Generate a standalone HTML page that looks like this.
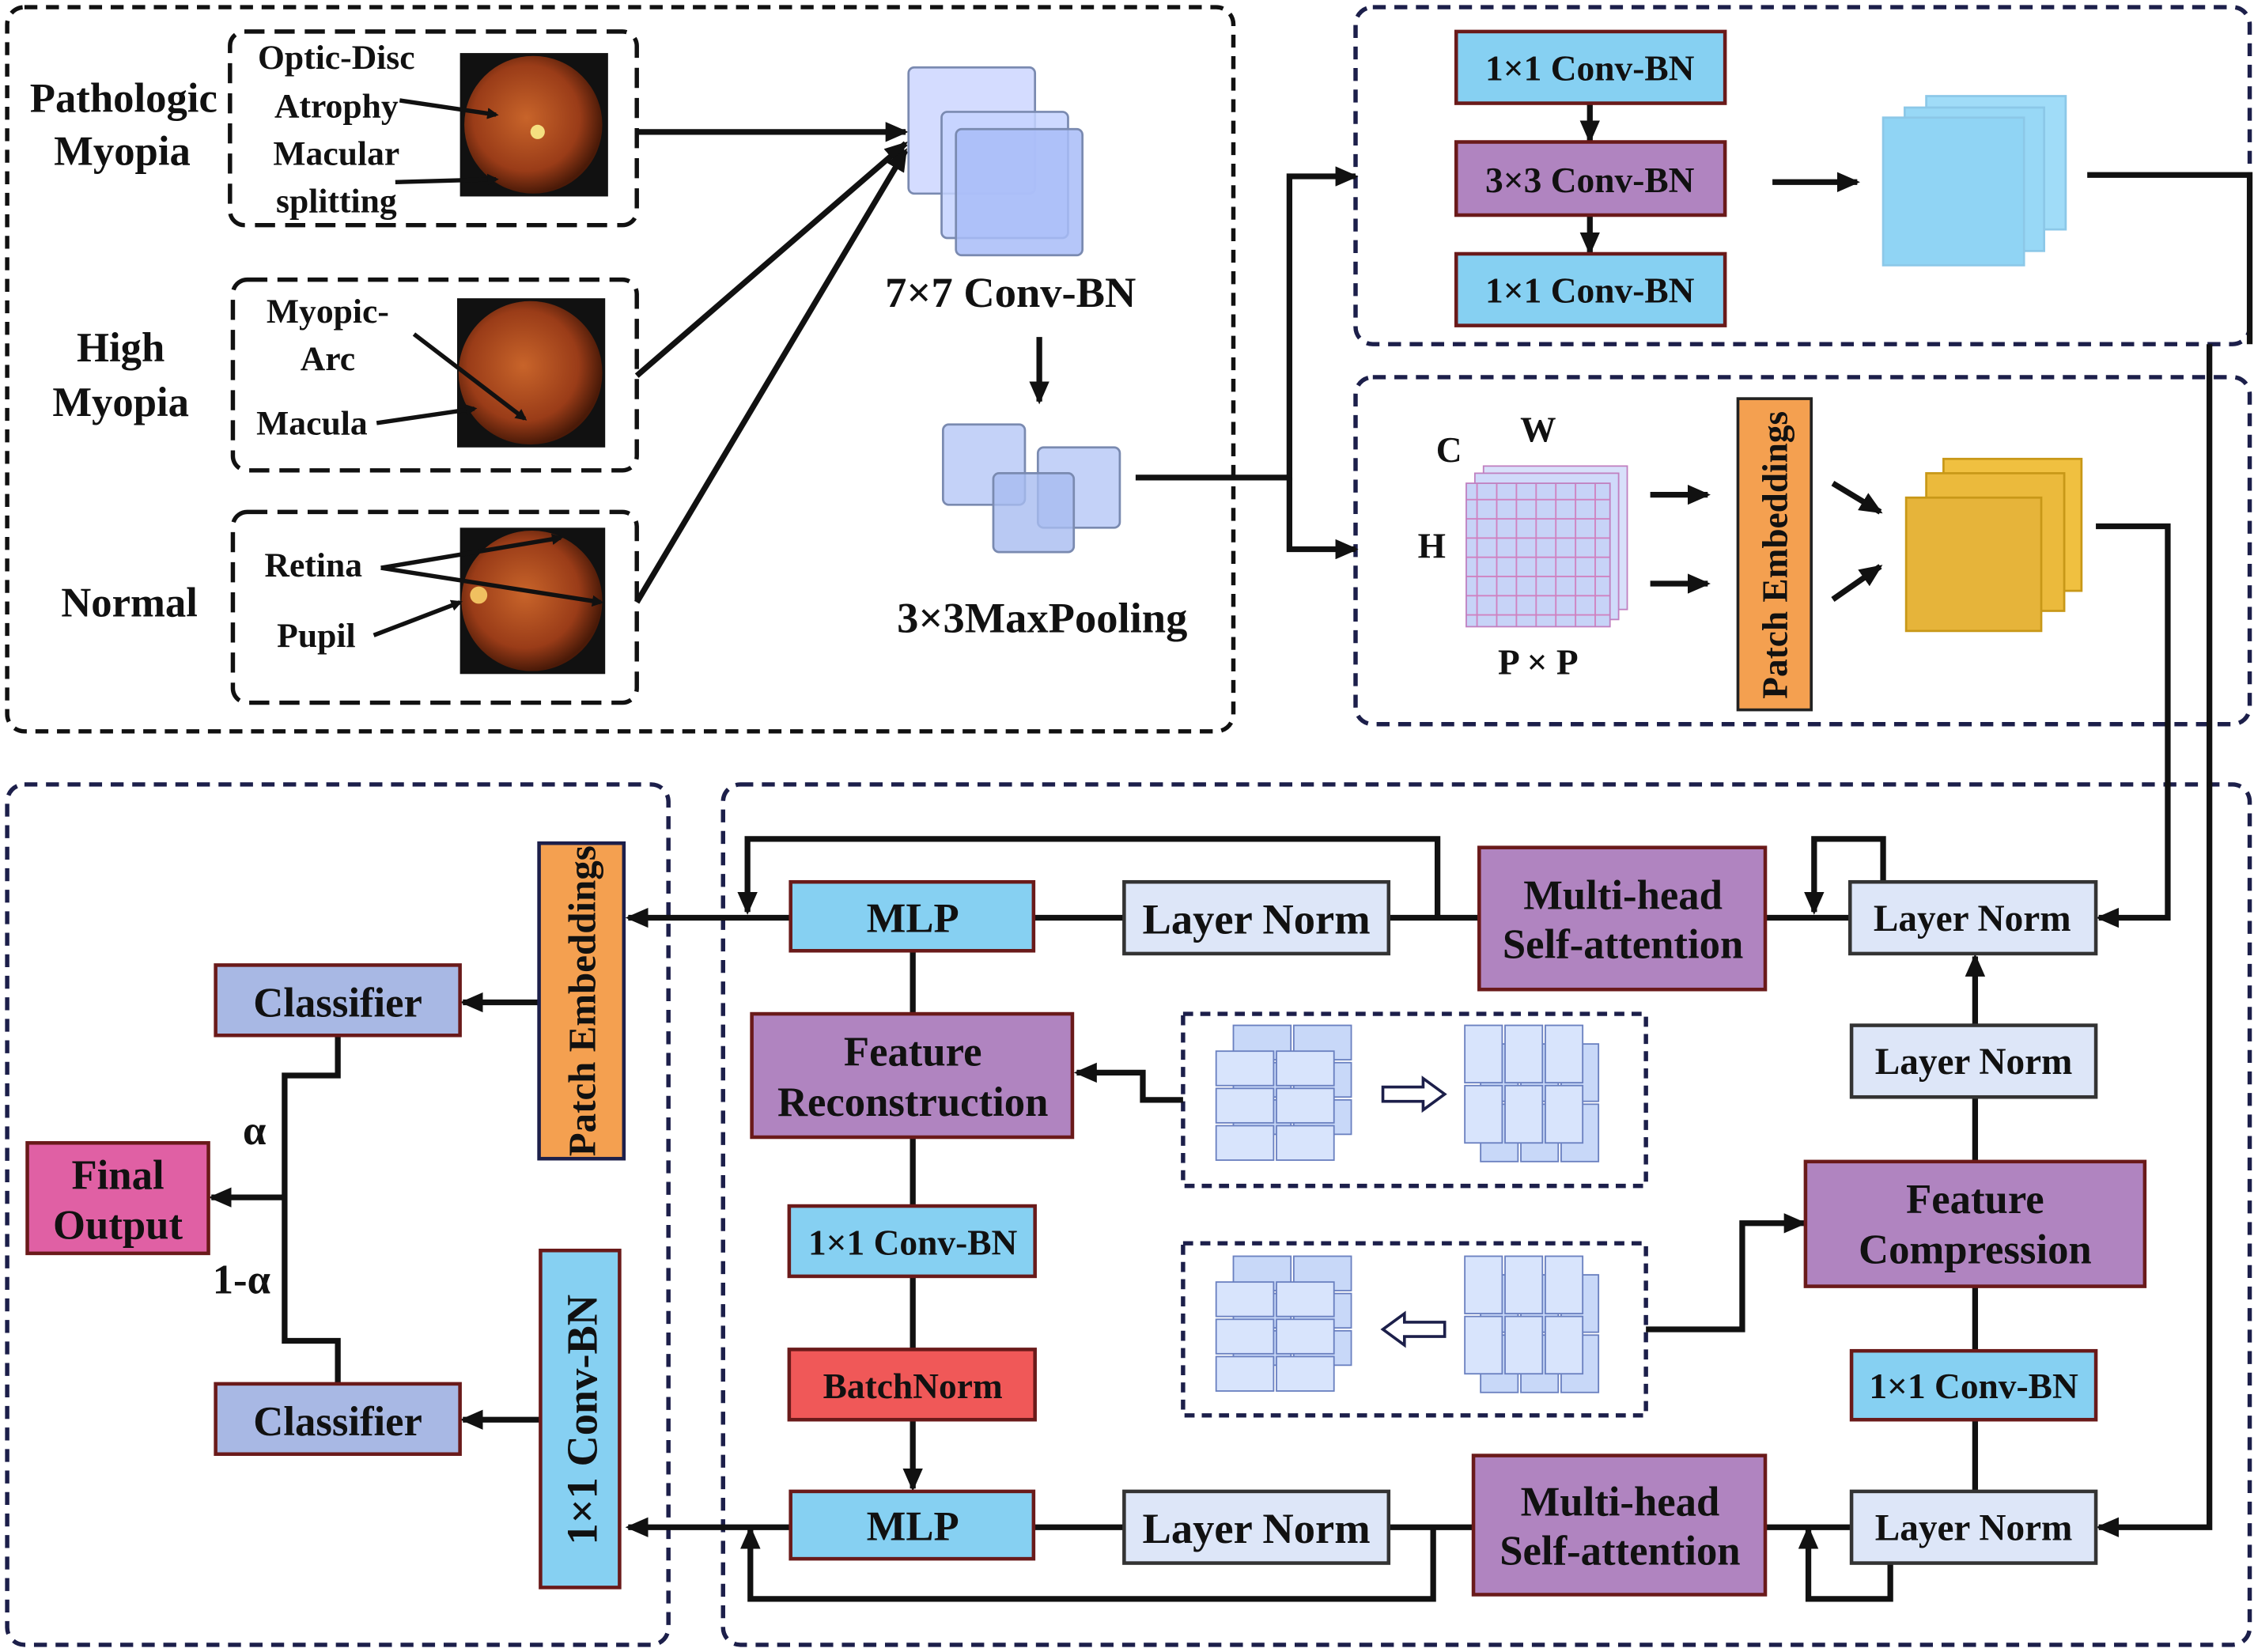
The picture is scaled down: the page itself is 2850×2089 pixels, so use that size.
<!DOCTYPE html>
<html><head><meta charset="utf-8"><style>
html,body{margin:0;padding:0;background:#fff}
svg{display:block}
text{font-family:"Liberation Serif",serif;font-weight:bold;fill:#111}
</style></head><body>
<svg width="2850" height="2089" viewBox="0 0 1568 1152" preserveAspectRatio="none" xmlns="http://www.w3.org/2000/svg">
<defs>
<marker id="a" markerWidth="8" markerHeight="8" refX="6" refY="4" orient="auto" markerUnits="userSpaceOnUse" viewBox="0 0 8 8"><path d="M0,0 L8,4 L0,8 z" fill="#111"/></marker>
<marker id="b" markerWidth="16" markerHeight="14" refX="14" refY="7" orient="auto" markerUnits="userSpaceOnUse"><path d="M0,0 L16,7 L0,14 z" fill="#111"/></marker>
<radialGradient id="eye" cx="45%" cy="45%" r="55%"><stop offset="0" stop-color="#c8642a"/><stop offset="0.7" stop-color="#9a3c18"/><stop offset="1" stop-color="#4a1a08"/></radialGradient>
<pattern id="grid" width="13.7" height="13.4" patternUnits="userSpaceOnUse"><rect width="13.7" height="13.4" fill="#c7d3f7" stroke="#d080c0" stroke-width="1"/></pattern>
</defs>
<g fill="none" stroke-width="3">
<rect x="5" y="5" width="853" height="505" rx="12" stroke="#111" stroke-dasharray="9,6"/>
<rect x="160" y="22" width="283" height="135" rx="10" stroke="#111" stroke-dasharray="14,7"/>
<rect x="162" y="195" width="281" height="133" rx="10" stroke="#111" stroke-dasharray="14,7"/>
<rect x="162" y="357" width="281" height="133" rx="10" stroke="#111" stroke-dasharray="14,7"/>
<rect x="943" y="5" width="622" height="235" rx="12" stroke="#1c1f4a" stroke-dasharray="9,6"/>
<rect x="943" y="263" width="622" height="242" rx="12" stroke="#1c1f4a" stroke-dasharray="9,6"/>
<rect x="5" y="547" width="460" height="600" rx="12" stroke="#1c1f4a" stroke-dasharray="9,6"/>
<rect x="503" y="547" width="1062" height="600" rx="12" stroke="#1c1f4a" stroke-dasharray="9,6"/>
<rect x="823" y="707" width="322" height="120" stroke="#1c1f4a" stroke-dasharray="7,5"/>
<rect x="823" y="867" width="322" height="120" stroke="#1c1f4a" stroke-dasharray="7,5"/>
</g>
<rect x="320" y="37" width="103" height="100" fill="#111"/><circle cx="371" cy="87" r="48" fill="url(#eye)"/><circle cx="374" cy="92" r="5" fill="#f4e080"/>
<rect x="318" y="208" width="103" height="104" fill="#111"/><circle cx="369" cy="260" r="50" fill="url(#eye)"/>
<rect x="320" y="368" width="101" height="102" fill="#111"/><circle cx="370" cy="419" r="49" fill="url(#eye)"/><circle cx="333" cy="415" r="6" fill="#f0c060"/>
<g font-size="29">
<text x="86" y="78" text-anchor="middle">Pathologic</text><text x="85" y="115" text-anchor="middle">Myopia</text>
<text x="84" y="252" text-anchor="middle">High</text><text x="84" y="290" text-anchor="middle">Myopia</text>
<text x="90" y="430" text-anchor="middle">Normal</text>
</g>
<g font-size="24" text-anchor="middle">
<text x="234" y="48">Optic-Disc</text><text x="234" y="82">Atrophy</text><text x="234" y="115">Macular</text><text x="234" y="148">splitting</text>
<text x="228" y="225">Myopic-</text><text x="228" y="258">Arc</text><text x="217" y="303">Macula</text>
<text x="218" y="402">Retina</text><text x="220" y="451">Pupil</text>
</g>
<g stroke="#111" stroke-width="3" fill="none" marker-end="url(#a)">
<path d="M278,70 L345,80"/><path d="M275,127 L345,125"/>
<path d="M288,233 L365,292"/><path d="M262,295 L330,285"/>
<path d="M265,396 L390,375"/><path d="M265,396 L418,420"/><path d="M260,443 L320,420"/>
</g>
<g stroke="#111" stroke-width="4" fill="none" marker-end="url(#b)">
<path d="M443,92 L630,92"/><path d="M443,262 L630,100"/><path d="M443,420 L630,105"/>
<path d="M723,235 L723,280"/>
<path d="M790,333 L897,333 L897,123 L943,123"/><path d="M897,333 L897,383 L943,383"/>
<path d="M1106,72 L1106,98"/><path d="M1106,150 L1106,176"/>
<path d="M1233,127 L1292,127"/>
<path d="M1148,345 L1188,345"/><path d="M1148,407 L1188,407"/>
<path d="M1275,337 L1308,357"/><path d="M1275,418 L1308,395"/>
<path d="M1458,367 L1508,367 L1508,640 L1460,640"/>
<path d="M1452,122 L1565,122 L1565,240 M1537,240 L1537,1065 L1460,1065"/>
<path d="M1000,640 L1000,585 L520,585 L520,636"/>
<path d="M1310,615 L1310,585 L1262,585 L1262,636"/>
<path d="M550,640 L437,640"/>
<path d="M823,767 L795,767 L795,748 L749,748"/>
<path d="M1145,927 L1212,927 L1212,853 L1255,853"/>
<path d="M1374,715 L1374,667"/>
<path d="M635,990 L635,1038"/>
<path d="M997,1065 L997,1115 L522,1115 L522,1066"/>
<path d="M1315,1090 L1315,1115 L1258,1115 L1258,1066"/>
<path d="M550,1065 L437,1065"/>
<path d="M375,699 L322,699"/><path d="M376,990 L322,990"/>
<path d="M198,835 L147,835"/>
</g>
<g stroke="#111" stroke-width="4" fill="none">
<path d="M1287,640 L1228,640 M1029,640 L966,640 M782,640 L719,640"/>
<path d="M635,663 L635,707 M635,793 L635,841 M635,890 L635,941"/>
<path d="M1374,765 L1374,810 M1374,897 L1374,942 M1374,990 L1374,1040"/>
<path d="M1288,1065 L1228,1065 M1025,1065 L966,1065 M782,1065 L719,1065"/>
<path d="M235,722 L235,750 L198,750 L198,935 L235,935 L235,965"/>
</g>
<g stroke="#7a8ab0" stroke-width="1.5">
<rect x="632" y="47" width="88" height="88" fill="#d4dcff" rx="4"/>
<rect x="655" y="78" width="88" height="88" fill="#c4d2ff" fill-opacity="0.85" rx="4"/>
<rect x="665" y="90" width="88" height="88" fill="#a8bcf8" fill-opacity="0.85" rx="4"/>
<rect x="656" y="296" width="57" height="56" fill="#c4d2f8" rx="4"/>
<rect x="722" y="312" width="57" height="56" fill="#c4d2f8" rx="4"/>
<rect x="691" y="330" width="56" height="55" fill="#a8bcf0" fill-opacity="0.8" rx="4"/>
</g>
<g font-size="30" text-anchor="middle"><text x="703" y="214">7×7 Conv-BN</text><text x="725" y="441">3×3MaxPooling</text></g>
<g stroke="#6a1a1a" stroke-width="2.5">
<rect x="1013" y="22" width="187" height="50" fill="#86d0f2"/>
<rect x="1013" y="99" width="187" height="51" fill="#b084c0"/>
<rect x="1013" y="177" width="187" height="50" fill="#86d0f2"/>
</g>
<g font-size="25" text-anchor="middle"><text x="1106" y="56">1×1 Conv-BN</text><text x="1106" y="134">3×3 Conv-BN</text><text x="1106" y="211">1×1 Conv-BN</text></g>
<g stroke="#8cc8e8" stroke-width="1.5">
<rect x="1340" y="67" width="97" height="93" fill="#a0dcf8"/>
<rect x="1325" y="75" width="97" height="100" fill="#98d8f6"/>
<rect x="1310" y="82" width="98" height="103" fill="#90d4f4"/>
</g>
<rect x="1032" y="325" width="100" height="100" fill="#d8e0fa" stroke="#c080c0"/>
<rect x="1026" y="330" width="100" height="102" fill="#d0dafa" stroke="#c080c0"/>
<rect x="1020" y="337" width="100" height="100" fill="url(#grid)" stroke="#c080c0"/>
<g font-size="25" text-anchor="middle"><text x="1008" y="322">C</text><text x="1070" y="308">W</text><text x="996" y="389">H</text><text x="1070" y="470">P  ×  P</text></g>
<rect x="1209" y="278" width="51" height="217" fill="#f4a050" stroke="#222" stroke-width="2"/>
<text font-size="25" transform="translate(1243,387) rotate(-90)" text-anchor="middle">Patch Embeddings</text>
<g stroke="#c89818" stroke-width="1.5">
<rect x="1352" y="320" width="96" height="92" fill="#f0c040"/>
<rect x="1340" y="330" width="96" height="96" fill="#ebba3c"/>
<rect x="1326" y="347" width="94" height="93" fill="#e6b43a"/>
</g>
<g stroke="#6a1a1a" stroke-width="2.5">
<rect x="1287" y="615" width="171" height="50" fill="#dde6f8" stroke="#333"/>
<rect x="1029" y="591" width="199" height="99" fill="#b084c0"/>
<rect x="782" y="615" width="184" height="50" fill="#dde6f8" stroke="#333"/>
<rect x="550" y="615" width="169" height="48" fill="#86d0f2"/>
<rect x="523" y="707" width="223" height="86" fill="#b084c0"/>
<rect x="549" y="841" width="171" height="49" fill="#86d0f2"/>
<rect x="549" y="941" width="171" height="49" fill="#f05858"/>
<rect x="550" y="1040" width="169" height="47" fill="#86d0f2"/>
<rect x="1288" y="715" width="170" height="50" fill="#dde6f8" stroke="#333"/>
<rect x="1256" y="810" width="236" height="87" fill="#b084c0"/>
<rect x="1288" y="942" width="170" height="48" fill="#86d0f2"/>
<rect x="1288" y="1040" width="170" height="50" fill="#dde6f8" stroke="#333"/>
<rect x="1025" y="1015" width="203" height="97" fill="#b084c0"/>
<rect x="782" y="1040" width="184" height="50" fill="#dde6f8" stroke="#333"/>
</g>
<g font-size="26" text-anchor="middle">
<text x="1372" y="649" font-size="26">Layer Norm</text>
<text x="1129" y="634" font-size="29">Multi-head</text><text x="1129" y="668" font-size="29">Self-attention</text>
<text x="874" y="651" font-size="30">Layer Norm</text>
<text x="635" y="650" font-size="29">MLP</text>
<text x="635" y="743" font-size="29">Feature</text><text x="635" y="778" font-size="29">Reconstruction</text>
<text x="635" y="875" font-size="25">1×1 Conv-BN</text>
<text x="635" y="975" font-size="25">BatchNorm</text>
<text x="635" y="1074" font-size="29">MLP</text>
<text x="1373" y="749" font-size="26">Layer Norm</text>
<text x="1374" y="846" font-size="29">Feature</text><text x="1374" y="881" font-size="29">Compression</text>
<text x="1373" y="975" font-size="25">1×1 Conv-BN</text>
<text x="1373" y="1074" font-size="26">Layer Norm</text>
<text x="1127" y="1057" font-size="29">Multi-head</text><text x="1127" y="1091" font-size="29">Self-attention</text>
<text x="874" y="1076" font-size="30">Layer Norm</text>
</g>
<g stroke="#6a80c0" stroke-width="1" fill="#c8d8f8">
<g transform="translate(858,715)"><rect width="40" height="24"/><rect x="42" width="40" height="24"/><rect y="26" width="40" height="24"/><rect x="42" y="26" width="40" height="24"/><rect y="52" width="40" height="24"/><rect x="42" y="52" width="40" height="24"/></g>
<g transform="translate(846,733)" fill="#d8e4fc"><rect width="40" height="24"/><rect x="42" width="40" height="24"/><rect y="26" width="40" height="24"/><rect x="42" y="26" width="40" height="24"/><rect y="52" width="40" height="24"/><rect x="42" y="52" width="40" height="24"/></g>
<g transform="translate(1030,728)"><rect width="26" height="40"/><rect x="28" width="26" height="40"/><rect x="56" width="26" height="40"/><rect y="42" width="26" height="40"/><rect x="28" y="42" width="26" height="40"/><rect x="56" y="42" width="26" height="40"/></g>
<g transform="translate(1019,715)" fill="#d8e4fc"><rect width="26" height="40"/><rect x="28" width="26" height="40"/><rect x="56" width="26" height="40"/><rect y="42" width="26" height="40"/><rect x="28" y="42" width="26" height="40"/><rect x="56" y="42" width="26" height="40"/></g>
<g transform="translate(858,876)"><rect width="40" height="24"/><rect x="42" width="40" height="24"/><rect y="26" width="40" height="24"/><rect x="42" y="26" width="40" height="24"/><rect y="52" width="40" height="24"/><rect x="42" y="52" width="40" height="24"/></g>
<g transform="translate(846,894)" fill="#d8e4fc"><rect width="40" height="24"/><rect x="42" width="40" height="24"/><rect y="26" width="40" height="24"/><rect x="42" y="26" width="40" height="24"/><rect y="52" width="40" height="24"/><rect x="42" y="52" width="40" height="24"/></g>
<g transform="translate(1030,889)"><rect width="26" height="40"/><rect x="28" width="26" height="40"/><rect x="56" width="26" height="40"/><rect y="42" width="26" height="40"/><rect x="28" y="42" width="26" height="40"/><rect x="56" y="42" width="26" height="40"/></g>
<g transform="translate(1019,876)" fill="#d8e4fc"><rect width="26" height="40"/><rect x="28" width="26" height="40"/><rect x="56" width="26" height="40"/><rect y="42" width="26" height="40"/><rect x="28" y="42" width="26" height="40"/><rect x="56" y="42" width="26" height="40"/></g>
</g>
<path d="M962,758 L990,758 L990,752 L1005,763 L990,774 L990,768 L962,768 z" fill="#fff" stroke="#1c1f4a" stroke-width="2"/>
<path d="M1005,922 L977,922 L977,916 L962,927 L977,938 L977,932 L1005,932 z" fill="#fff" stroke="#1c1f4a" stroke-width="2"/>
<rect x="375" y="588" width="59" height="220" fill="#f4a050" stroke="#1c1f4a" stroke-width="2.5"/>
<text font-size="27" transform="translate(414,698) rotate(-90)" text-anchor="middle">Patch Embeddings</text>
<rect x="376" y="872" width="55" height="235" fill="#86d0f2" stroke="#6a1a1a" stroke-width="2.5"/>
<text font-size="30" transform="translate(415,990) rotate(-90)" text-anchor="middle">1×1 Conv-BN</text>
<rect x="150" y="673" width="170" height="49" fill="#a8b8e4" stroke="#6a1a1a" stroke-width="2.5"/>
<rect x="150" y="965" width="170" height="49" fill="#a8b8e4" stroke="#6a1a1a" stroke-width="2.5"/>
<rect x="19" y="797" width="126" height="77" fill="#e060a4" stroke="#6a1a1a" stroke-width="2.5"/>
<g font-size="29" text-anchor="middle">
<text x="235" y="709">Classifier</text><text x="235" y="1001">Classifier</text>
<text x="82" y="829">Final</text><text x="82" y="864">Output</text>
<text x="177" y="798">α</text><text x="168" y="902">1-α</text>
</g>
</svg>
</body></html>
